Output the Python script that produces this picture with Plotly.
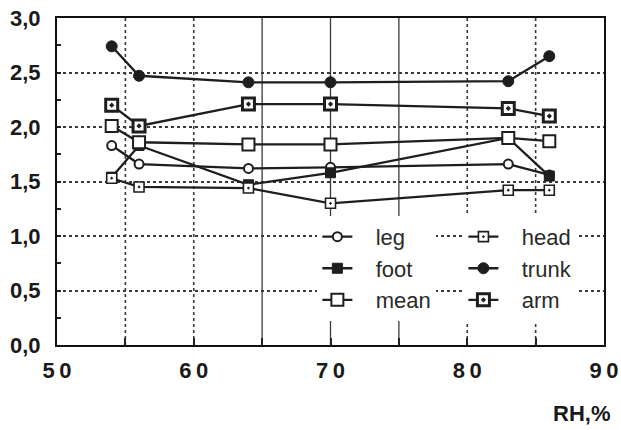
import plotly.graph_objects as go

rh = [54, 56, 64, 70, 83, 86]
leg = [1.83, 1.66, 1.62, 1.63, 1.66, 1.56]
foot = [1.54, 1.83, 1.47, 1.58, 1.90, 1.55]
mean = [2.01, 1.86, 1.84, 1.84, 1.90, 1.87]
head = [1.53, 1.45, 1.44, 1.30, 1.42, 1.42]
trunk = [2.74, 2.47, 2.41, 2.41, 2.42, 2.65]
arm = [2.20, 2.01, 2.21, 2.21, 2.17, 2.10]

x_tickvals = [50, 60, 70, 80, 90]
x_ticktext = ["5\u20090", "6\u20090", "7\u20090", "8\u20090", "9\u20090"]
y_tickvals = [0, 0.5, 1.0, 1.5, 2.0, 2.5, 3.0]
y_ticktext = ["0,0", "0,5", "1,0", "1,5", "2,0", "2,5", "3,0"]

INK = "#1e1e1e"
NB = "\u00a0\u00a0\u00a0"

series = [
    ("leg", leg, dict(symbol="circle", size=9, color="white", line=dict(color=INK, width=2)), "legend"),
    ("foot", foot, dict(symbol="square", size=10, color=INK, line=dict(color=INK, width=1)), "legend"),
    ("mean", mean, dict(symbol="square", size=12, color="white", line=dict(color=INK, width=2)), "legend"),
    ("head", head, dict(symbol="square-dot", size=10, color="white", line=dict(color=INK, width=1.6)), "legend2"),
    ("trunk", trunk, dict(symbol="circle", size=11, color=INK, line=dict(color=INK, width=1)), "legend2"),
    ("arm", arm, dict(symbol="square-dot", size=12, color="white", line=dict(color=INK, width=3)), "legend2"),
]

fig = go.Figure()
for name, vals, mk, lg in series:
    fig.add_trace(go.Scatter(
        x=rh, y=vals, name=NB + name, mode="lines+markers",
        line=dict(color=INK, width=2.3), marker=mk, legend=lg,
        legendgroup=name,
    ))

grid_color = "#3a3a3a"
shapes = []
for xv, dash in [(55, "dot"), (60, "dot"), (65, "solid"), (70, "solid"), (75, "solid"), (80, "dot"), (85, "dot")]:
    shapes.append(dict(type="line", xref="x", yref="paper", x0=xv, x1=xv, y0=0, y1=1,
                       line=dict(color=grid_color, width=1.6 if dash == "dot" else 1.3, dash=dash),
                       layer="below"))

legend_font = dict(family="Liberation Sans, Arial, sans-serif", size=22, color="#2a2a2a")

fig.update_layout(
    width=621, height=430,
    margin=dict(l=57, r=17, t=18, b=85),
    paper_bgcolor="white", plot_bgcolor="white",
    shapes=shapes,
    showlegend=True,
    legend=dict(x=0.476, y=0.395, xanchor="left", yanchor="top", bgcolor="white",
                font=legend_font, tracegroupgap=4, traceorder="normal", itemwidth=30,
                borderwidth=0),
    legend2=dict(x=0.743, y=0.395, xanchor="left", yanchor="top", bgcolor="white",
                 font=legend_font, tracegroupgap=4, traceorder="normal", itemwidth=30,
                 borderwidth=0),
    annotations=[dict(text="RH,%", xref="paper", yref="paper", x=1.015, y=-0.21,
                      xanchor="right", yanchor="middle", showarrow=False,
                      font=dict(family="Liberation Sans, Arial, sans-serif", size=22,
                                color="#1a1a1a", weight="bold"))],
)

fig.update_xaxes(
    range=[50, 90], tickmode="array", tickvals=x_tickvals, ticktext=x_ticktext,
    showgrid=False, zeroline=False, automargin=False,
    showline=True, mirror=True, linecolor="#111", linewidth=2,
    ticks="inside", ticklen=0, ticklabelstandoff=5,
    tickfont=dict(family="Liberation Sans, Arial, sans-serif", size=22, color="#1a1a1a", weight="bold"),
    minor=dict(dtick=5, tick0=50, ticks="inside", ticklen=7, tickcolor="#222", tickwidth=1.5, showgrid=False),
)
fig.update_yaxes(
    range=[0, 3], tickmode="array", tickvals=y_tickvals, ticktext=y_ticktext,
    showgrid=True, gridcolor=grid_color, griddash="dot", gridwidth=2, zeroline=False,
    automargin=False,
    showline=True, mirror=True, linecolor="#111", linewidth=2,
    ticks="inside", ticklen=0, ticklabelstandoff=10,
    tickfont=dict(family="Liberation Sans, Arial, sans-serif", size=22, color="#1a1a1a", weight="bold"),
    minor=dict(dtick=0.25, tick0=0, ticks="inside", ticklen=4, tickcolor="#222", tickwidth=2, showgrid=False),
)

fig.write_html(
    "out.html",
    config={"displayModeBar": False},
    post_script="document.body.style.margin='0';document.body.style.overflow='hidden';",
)
